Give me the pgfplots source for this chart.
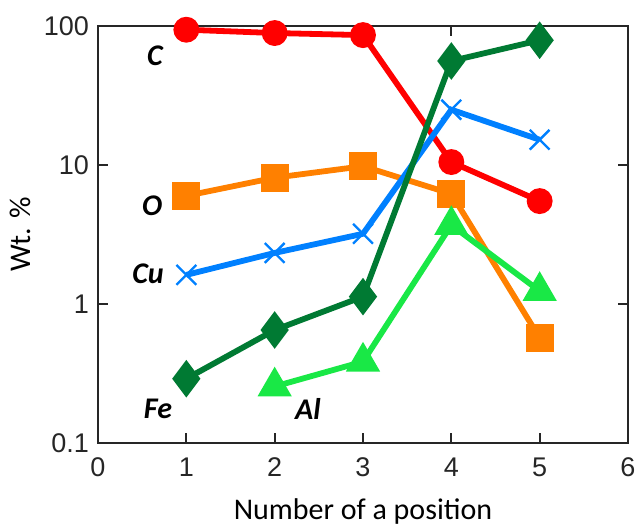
\documentclass[border=0pt]{standalone}
\usepackage{fontspec}
\setmainfont{Carlito}
\newfontfamily\arial{Liberation Sans}
\usepackage{pgfplots}
\pgfplotsset{compat=1.18}
\definecolor{cC}{RGB}{255,0,0}
\definecolor{cO}{RGB}{255,128,0}
\definecolor{cCu}{RGB}{0,128,255}
\definecolor{cFe}{RGB}{0,122,51}
\definecolor{cAl}{RGB}{25,232,70}
\begin{document}
\begin{tikzpicture}
\begin{axis}[
  scale only axis, width=265pt, height=208.5pt,
  xmin=0, xmax=6, ymode=log, ymin=0.1, ymax=100,
  xtick={0,1,2,3,4,5,6},
  ytick={0.1,1,10,100}, yticklabels={0.1,1,10,100},
  yminorticks=false,
  tick align=inside, major tick length=5pt,
  axis line style={line width=1pt, black!85},
  every tick/.style={line width=0.9pt, black!85},
  /pgf/number format/assume math mode=true,
  ticklabel style={font=\arial\fontsize{13.5}{15}\selectfont, text=black!85},
  xticklabel style={yshift=-4pt},
  yticklabel style={xshift=-1pt},
  xlabel={Number of a position}, ylabel={Wt. \%},
  label style={font=\fontsize{15}{17}\selectfont},
  xlabel style={at={([yshift=-34.5pt]axis description cs:0.5,0)}, anchor=center},
  ylabel style={at={([xshift=-39pt]axis description cs:0,0.5)}, anchor=center},
  clip=false,
]
\addplot[cC, line width=2.9pt, mark=*, mark size=5pt] coordinates {(1,94) (2,89) (3,86) (4,10.5) (5,5.5)};
\addplot[cO, line width=2.9pt, mark=square*, mark size=5.5pt] coordinates {(1,6.0) (2,8.1) (3,9.8) (4,6.2) (5,0.57)};
\addplot[cCu, line width=2.9pt, mark=x, mark size=7pt, mark options={line width=1.2pt}] coordinates {(1,1.62) (2,2.33) (3,3.2) (4,25) (5,15.2)};
\addplot[cFe, line width=2.9pt, mark=diamond*, mark size=7pt] coordinates {(1,0.29) (2,0.65) (3,1.13) (4,56) (5,79)};
\addplot[cAl, line width=2.9pt, mark=triangle*, mark size=7pt] coordinates {(2,0.255) (3,0.385) (4,3.7) (5,1.24)};
\node[font=\bfseries\itshape\fontsize{15}{17}\selectfont] at (axis cs:0.645,60.8) {C};
\node[font=\bfseries\itshape\fontsize{15}{17}\selectfont] at (axis cs:0.612,5.07) {O};
\node[font=\bfseries\itshape\fontsize{15}{17}\selectfont] at (axis cs:0.566,1.64) {Cu};
\node[font=\bfseries\itshape\fontsize{15}{17}\selectfont] at (axis cs:0.679,0.176) {Fe};
\node[font=\bfseries\itshape\fontsize{15}{17}\selectfont] at (axis cs:2.377,0.176) {Al};
\coordinate (bl) at (rel axis cs:0,0);
\coordinate (tr) at (rel axis cs:1,1);
\end{axis}
\pgfresetboundingbox
\path ([shift={(-49pt,-42pt)}]bl) rectangle ([shift={(5pt,13pt)}]tr);
\end{tikzpicture}
\end{document}
